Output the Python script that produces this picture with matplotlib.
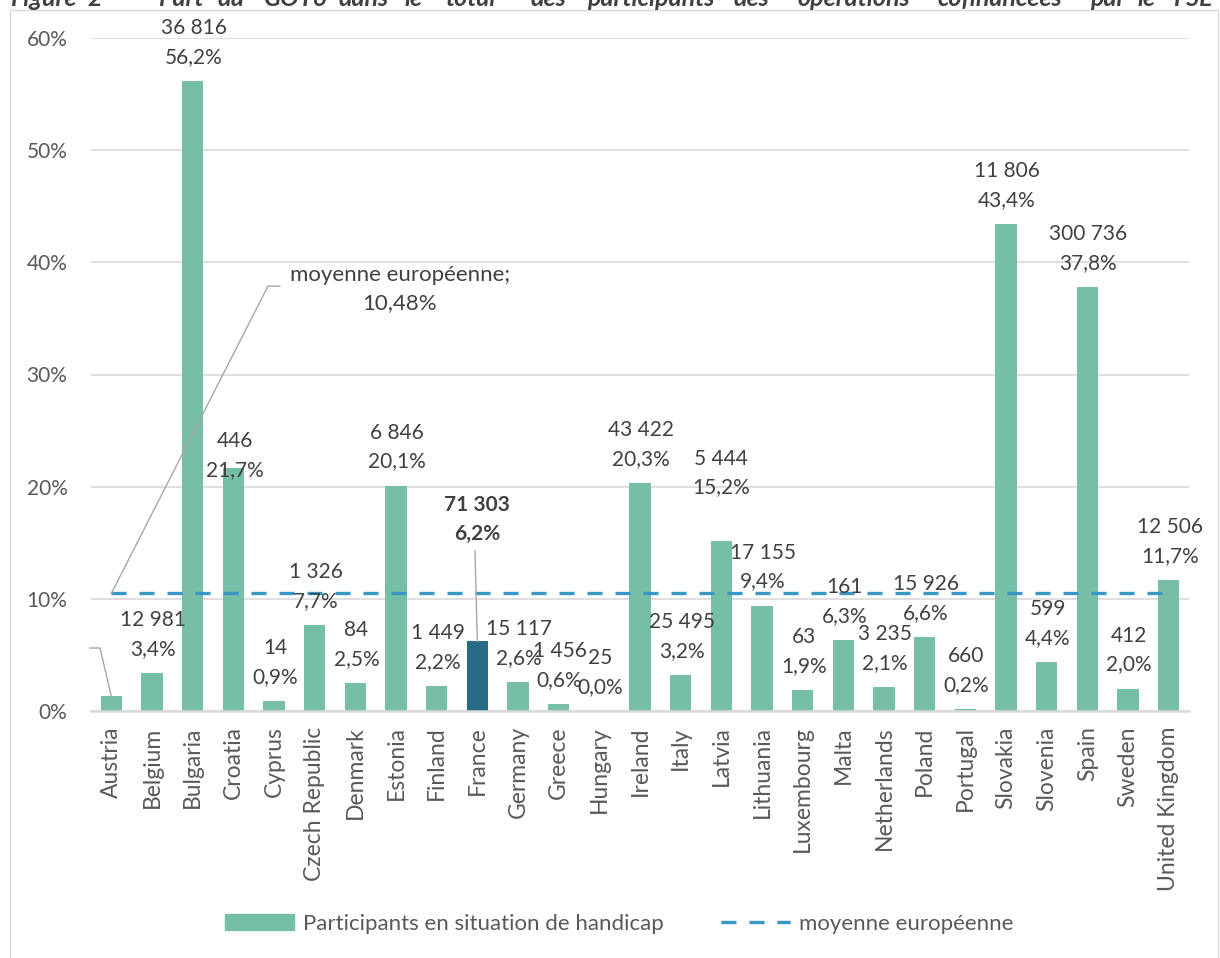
import matplotlib.pyplot as plt
from matplotlib.patches import Patch, Rectangle
from matplotlib.lines import Line2D

plt.rcParams['font.family'] = ['Lato', 'DejaVu Sans']

countries = ["Austria", "Belgium", "Bulgaria", "Croatia", "Cyprus", "Czech Republic", "Denmark",
             "Estonia", "Finland", "France", "Germany", "Greece", "Hungary", "Ireland", "Italy",
             "Latvia", "Lithuania", "Luxembourg", "Malta", "Netherlands", "Poland", "Portugal",
             "Slovakia", "Slovenia", "Spain", "Sweden", "United Kingdom"]
share = [1.3, 3.4, 56.2, 21.7, 0.9, 7.7, 2.5, 20.1, 2.2, 6.2, 2.6, 0.6, 0.0, 20.3, 3.2,
         15.2, 9.4, 1.9, 6.3, 2.1, 6.6, 0.2, 43.4, 4.4, 37.8, 2.0, 11.7]
participants = ["", "12 981", "36 816", "446", "14", "1 326", "84", "6 846", "1 449", "71 303",
                "15 117", "1 456", "25", "43 422", "25 495", "5 444", "17 155", "63", "161",
                "3 235", "15 926", "660", "11 806", "599", "300 736", "412", "12 506"]
eu_mean = 10.48
highlight = "France"

GREEN = "#76BEA6"
DARK = "#286B87"
BLUE = "#3A97C5"
TXT = "#404040"
TICK = "#595959"
GRID = "#D9D9D9"

W, H = 1220, 958
fig = plt.figure(figsize=(W / 100, H / 100), dpi=100)

# chart frame
fig.patches.append(Rectangle((10 / W, -0.05), 1208 / W, 1.05 - 10 / H, transform=fig.transFigure,
                             fill=False, edgecolor=GRID, lw=1))

# title, clipped at the top like in the source document (justified words)
title_words = [("Figure", 10), ("2", 88), ("–", 118), ("Part", 158), ("du", 217), ("GOT6", 264),
               ("dans", 338), ("le", 404), ("total", 445), ("des", 530), ("participants", 587),
               ("des", 733), ("opérations", 797), ("cofinancées", 937), ("par", 1090),
               ("le", 1137), ("FSE", 1173)]
for w, xp in title_words:
    fig.text(xp / W, 1 - 6 / H, w, fontsize=18, fontweight='bold', fontstyle='italic',
             color=TXT, va='baseline', ha='left')

ax = fig.add_axes([91 / W, 1 - 711 / H, 1098 / W, (711 - 38) / H])
x = list(range(len(countries)))
vals = [v / 100 for v in share]
colors = [DARK if c == highlight else GREEN for c in countries]
ax.bar(x, vals, width=0.52, color=colors, zorder=2)
ax.plot(x, [eu_mean / 100] * len(x), color=BLUE, lw=2.4, dashes=(4.5, 3.9), zorder=3)

ax.set_xlim(-0.5, len(countries) - 0.5)
ax.set_ylim(0, 0.6)
ax.set_yticks([i / 10 for i in range(7)])
ax.set_yticklabels([f"{i * 10}%" for i in range(7)])
ax.set_xticks(x)
ax.set_xticklabels(countries, rotation=90)
ax.tick_params(axis='y', length=0, pad=17, labelsize=15, labelcolor=TICK)
ax.tick_params(axis='x', length=0, pad=11, labelsize=16.5, labelcolor=TICK)
ax.grid(axis='y', color=GRID, lw=1.2, zorder=0)
for s in ["top", "right", "left"]:
    ax.spines[s].set_visible(False)
ax.spines["bottom"].set_color(GRID)
ax.spines["bottom"].set_linewidth(1.8)

PT = 0.72  # points per pixel
# label shifts in pixels (dx, dy) for the labels that were moved by hand
moved = {"Croatia": (2, 26), "France": (0, -83), "Latvia": (0, -29)}
for i, c in enumerate(countries):
    if not participants[i]:
        continue
    dx, dy = moved.get(c, (1, 0))
    weight = 'bold' if c == highlight else 'normal'
    ax.annotate(participants[i], (i, vals[i]), xytext=(dx * PT, (53 - dy) * PT),
                textcoords='offset points', ha='center', va='center', fontsize=15,
                color=TXT, fontweight=weight, zorder=4)
    ax.annotate(f"{share[i]:.1f}%".replace(".", ","), (i, vals[i]),
                xytext=(dx * PT, (24 - dy) * PT), textcoords='offset points',
                ha='center', va='center', fontsize=15, color=TXT, fontweight=weight, zorder=4)


def px(xp, yp):
    return (xp - 91) / 40.67 - 0.5, (711 - yp) / 1122


# leader lines
lead = dict(color="#A6A6A6", lw=1, zorder=3, clip_on=False)
fx, fy = px(475, 551)
ax.plot([fx, 9], [fy, vals[9]], **lead)
a1, a2 = px(90, 648), px(100, 648)
ax.plot([a1[0], a2[0], 0], [a1[1], a2[1], vals[0]], **lead)
m1, m2 = px(280, 286), px(268, 286)
ax.plot([m1[0], m2[0], 0], [m1[1], m2[1], eu_mean / 100], **lead)
mx, my = px(400, 275)
ax.text(mx, my, "moyenne européenne;", ha='center', va='center', fontsize=16, color=TXT)
mx, my = px(400, 303)
ax.text(mx, my, f"{eu_mean:.2f}%".replace(".", ","), ha='center', va='center', fontsize=16,
        color=TXT)

handles = [Patch(color=GREEN), Line2D([], [], color=BLUE, lw=2.4, dashes=(4.5, 3.9))]
leg = fig.legend(handles, ["Participants en situation de handicap", "moyenne européenne"],
                 loc='center', bbox_to_anchor=(619 / W, 1 - 924 / H), ncol=2, frameon=False,
                 fontsize=16, handlelength=3.1, handletextpad=0.4, columnspacing=2.6)
for t in leg.get_texts():
    t.set_color(TICK)

fig.savefig("out.png", dpi=100)
